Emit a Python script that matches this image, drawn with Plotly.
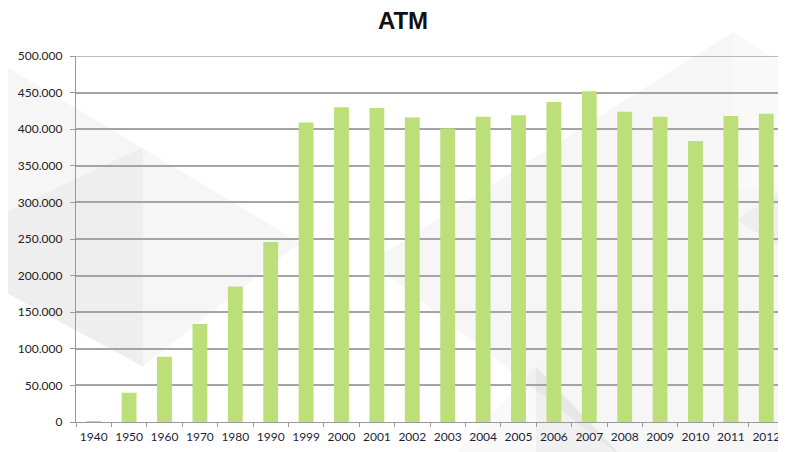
import plotly.graph_objects as go

# ---- data ----
years = ["1940", "1950", "1960", "1970", "1980", "1990", "1999", "2000", "2001", "2002",
         "2003", "2004", "2005", "2006", "2007", "2008", "2009", "2010", "2011", "2012"]
atm_counts = [1000, 40000, 89000, 134000, 185000, 246000, 409000, 430000, 429000, 416000,
              401000, 417000, 419000, 437000, 452000, 424000, 417000, 384000, 418000, 421000]
y_ticks = [0, 50000, 100000, 150000, 200000, 250000, 300000, 350000, 400000, 450000, 500000]

# ---- geometry (page body has an 8px margin, so the figure is drawn 8px smaller) ----
OFF = 8
W, H = 786 - OFF, 452 - OFF
L, T = 76 - OFF, 56 - OFF
R = W - (784 - OFF)
B = H - (422.5 - OFF)
pw, ph = W - L - R, H - T - B

def px2paper(pts):
    # reference-picture pixel coordinates -> paper coordinates
    return [((x - OFF - L) / pw, (H - B - (y - OFF)) / ph) for x, y in pts]

# faint grey facets of the Office-style background
backdrop = [
    ([(0, 63), (300, 243), (143, 367), (0, 290)], "rgba(0,0,0,0.035)"),
    ([(0, 215), (143, 147), (143, 367), (0, 290)], "rgba(0,0,0,0.03)"),
    ([(733, 32), (800, 74), (800, 460), (625, 460), (370, 262)], "rgba(0,0,0,0.035)"),
    ([(733, 32), (800, 74), (800, 190), (733, 190)], "rgba(255,255,255,0.35)"),
    ([(736, 220), (800, 180), (800, 260)], "rgba(0,0,0,0.03)"),
    ([(536, 367), (625, 460), (536, 460)], "rgba(0,0,0,0.06)"),
    ([(536, 367), (536, 460), (450, 460)], "rgba(0,0,0,0.025)"),
]

shapes = []
for pts, col in backdrop:
    p = px2paper(pts)
    path = "M " + " L ".join(f"{x:.4f},{y:.4f}" for x, y in p) + " Z"
    shapes.append(dict(type="path", path=path, xref="paper", yref="paper",
                       fillcolor=col, line=dict(width=0), layer="below"))

fig = go.Figure()
fig.add_trace(go.Bar(
    x=years, y=atm_counts,
    marker=dict(color="#bcdf7a", line=dict(width=0)),
    hovertemplate="%{x}: %{y:,d}<extra></extra>",
))

font_family = "Lato, 'Liberation Sans', sans-serif"
fig.update_layout(
    width=W, height=H,
    margin=dict(l=L, r=R, t=T, b=B, autoexpand=False),
    paper_bgcolor="white", plot_bgcolor="rgba(0,0,0,0)",
    separators=",.",
    title=dict(text="<b>ATM</b>", x=(403 - OFF) / W, xanchor="center",
               y=1 - (21 - OFF) / H, yanchor="middle",
               font=dict(family="'Liberation Sans', Arial, sans-serif", size=24, color="#111111")),
    bargap=0.58,
    showlegend=False,
    shapes=shapes,
    font=dict(family=font_family, size=12, color="#222222"),
)
fig.update_xaxes(
    type="category", showgrid=False, showline=True, linecolor="#9a9a9a", linewidth=1.3,
    automargin=False, tickangle=0, ticklabelstandoff=3,
    ticks="outside", ticklen=4, tickcolor="#9a9a9a", tickson="boundaries",
    tickfont=dict(color="#1e1e3a", size=12),
)
fig.update_yaxes(
    range=[0, 500000], tickvals=y_ticks, tickformat=",d", automargin=False,
    showgrid=True, gridcolor="#a4a4a4", gridwidth=1.6,
    showline=True, linecolor="#9a9a9a", linewidth=1.3,
    ticks="outside", ticklen=5, tickcolor="#9a9a9a", ticklabelstandoff=5,
    zeroline=False, tickfont=dict(color="#222222", size=12),
)
# top gridline at 500.000 (edge of the plotting area)
fig.add_hline(y=500000, line=dict(color="#a4a4a4", width=1.6), layer="below")

fig.write_html("out.html")
